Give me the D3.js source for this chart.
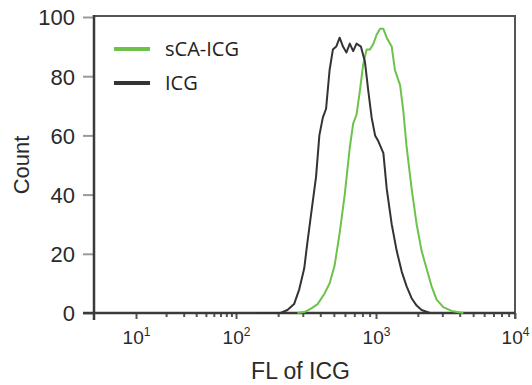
<!DOCTYPE html>
<html>
<head>
<meta charset="utf-8">
<script src="https://cdn.jsdelivr.net/npm/d3@7"></script>
<style>
  html, body { margin: 0; padding: 0; background: #fff; }
  svg { display: block; }
</style>
</head>
<body>
<svg id="chart" width="532" height="385"></svg>
<script>
// ---- data ----
const seriesNames = ["sCA-ICG", "ICG"];
const icgFL    = [141, 208, 233, 260, 283, 307, 324, 343, 373, 394, 417, 440, 466, 492, 520, 550, 581, 615, 650, 687, 726, 780, 833, 881, 931, 985, 1040, 1130, 1194, 1297, 1409, 1531, 1661, 1804, 1960, 2128, 2443];
const icgCount = [0,   0,   1,   3,   8,   15,  24,  33,  46,  60,  66,  69,  82,  89,  90,  93,  90,  88,  91,  88.5, 91, 90, 85, 75, 66, 60, 58, 54, 42, 30, 21, 14, 9, 5, 2.5, 1, 0];
const scaFL    = [275, 307, 343, 383, 428, 466, 506, 550, 598, 650, 687, 726, 767, 810, 857, 906, 958, 1011, 1069, 1130, 1194, 1297, 1370, 1490, 1574, 1661, 1804, 1960, 2128, 2312, 2512, 2729, 3048, 3500, 4250];
const scaCount = [0,   0.3, 1.5, 3,   6.5, 10,  16,  27,  40,  56,  64,  67,  75,  84,  89,  89,  91,  94,  96,  96,  93,  90,  82,  77,  68,  56,  42,  30,  21,  15,  9,   4.5, 2,   0.7, 0];
const xMajorTicks = [10, 100, 1000, 10000];
const xTickExponents = ["1", "2", "3", "4"];
const yTicks = [0, 20, 40, 60, 80, 100];

// ---- layout ----
const svg = d3.select("#chart");
const mLeft = 94, mRight = 515, mTop = 17, mBottom = 313;

// logicle-like axis: compressed first decade
const x = d3.scaleLog()
  .domain([3.75, 10, 100, 1000, 10000])
  .range([mLeft, 136, 236, 376, mRight]);
const y = d3.scaleLinear().domain([0, 100]).range([mBottom, mTop]);

const frameColor = "#3a3a3a";

// y ticks (gray, outward)
const yAxis = d3.axisLeft(y).tickValues(yTicks).tickSize(11).tickPadding(8).tickFormat(d3.format("d"));
const gy = svg.append("g").attr("transform", `translate(${mLeft},0)`).call(yAxis);
gy.select(".domain").remove();
gy.selectAll(".tick line").attr("stroke", "#9a9a9a").attr("stroke-width", 2);
gy.selectAll(".tick text")
  .attr("font-family", "Liberation Sans, Arial, sans-serif")
  .attr("font-size", 22).attr("fill", "#2a2a2a").attr("dy", "0.36em");

// x minor + major ticks
const minor = [];
[10, 100, 1000].forEach(dec => { for (let k = 2; k <= 9; k++) minor.push(dec * k); });
const xAxisMinor = d3.axisBottom(x).tickValues(minor).tickSize(4).tickFormat("");
const gxm = svg.append("g").attr("transform", `translate(0,${mBottom})`).call(xAxisMinor);
gxm.select(".domain").remove();
gxm.selectAll(".tick line").attr("stroke", "#555").attr("stroke-width", 2);

const xAxisMajor = d3.axisBottom(x).tickValues(xMajorTicks).tickSize(6).tickPadding(10).tickFormat("");
const gx = svg.append("g").attr("transform", `translate(0,${mBottom})`).call(xAxisMajor);
gx.select(".domain").remove();
gx.selectAll(".tick line").attr("stroke", "#555").attr("stroke-width", 2);
gx.selectAll(".tick").each(function(d, i) {
  const t = d3.select(this).append("text")
    .attr("y", 31).attr("text-anchor", "middle")
    .attr("font-family", "Liberation Sans, Arial, sans-serif")
    .attr("font-size", 19).attr("fill", "#2a2a2a");
  t.append("tspan").text("10");
  t.append("tspan").attr("font-size", 12).attr("dy", -8).text(xTickExponents[i]);
});

// frame
svg.append("line").attr("x1", mLeft).attr("x2", mRight).attr("y1", mTop - 1).attr("y2", mTop - 1)
  .attr("stroke", "#555").attr("stroke-width", 2);
svg.append("line").attr("x1", mRight).attr("x2", mRight).attr("y1", mTop - 2).attr("y2", mBottom + 6)
  .attr("stroke", "#555").attr("stroke-width", 2);
svg.append("line").attr("x1", mLeft).attr("x2", mLeft).attr("y1", mTop - 2).attr("y2", mBottom + 7)
  .attr("stroke", frameColor).attr("stroke-width", 2.5);
svg.append("line").attr("x1", mLeft - 11).attr("x2", mRight).attr("y1", mBottom).attr("y2", mBottom)
  .attr("stroke", frameColor).attr("stroke-width", 2.5);

// curves
const line = d3.line().x(d => x(d[0])).y(d => y(d[1])).curve(d3.curveLinear);
const icg = icgFL.map((v, i) => [v, icgCount[i]]);
const sca = scaFL.map((v, i) => [v, scaCount[i]]);
const colors = ["#6cc24a", "#333333"];

svg.append("path").datum(sca).attr("d", line).attr("fill", "none")
  .attr("stroke", colors[0]).attr("stroke-width", 2).attr("stroke-linejoin", "round");
svg.append("path").datum(icg).attr("d", line).attr("fill", "none")
  .attr("stroke", colors[1]).attr("stroke-width", 2).attr("stroke-linejoin", "round");

// legend
const legend = svg.append("g");
seriesNames.forEach((name, i) => {
  const ly = 49 + i * 34;
  legend.append("line").attr("x1", 114).attr("x2", 150).attr("y1", ly).attr("y2", ly)
    .attr("stroke", colors[i]).attr("stroke-width", 4);
  legend.append("text").attr("x", 165).attr("y", ly + 7)
    .attr("font-family", "Open Sans, sans-serif").attr("font-size", 20)
    .attr("fill", "#222").text(name);
});

// axis titles
svg.append("text").attr("x", (mLeft + mRight) / 2 - 4).attr("y", 379)
  .attr("text-anchor", "middle")
  .attr("font-family", "Liberation Sans, Arial, sans-serif").attr("font-size", 23)
  .attr("fill", "#2a2a2a").text("FL of ICG");
svg.append("text")
  .attr("transform", `translate(29,${(mTop + mBottom) / 2}) rotate(-90)`)
  .attr("text-anchor", "middle")
  .attr("font-family", "Liberation Sans, Arial, sans-serif").attr("font-size", 22)
  .attr("fill", "#2a2a2a").text("Count");
</script>
</body>
</html>
